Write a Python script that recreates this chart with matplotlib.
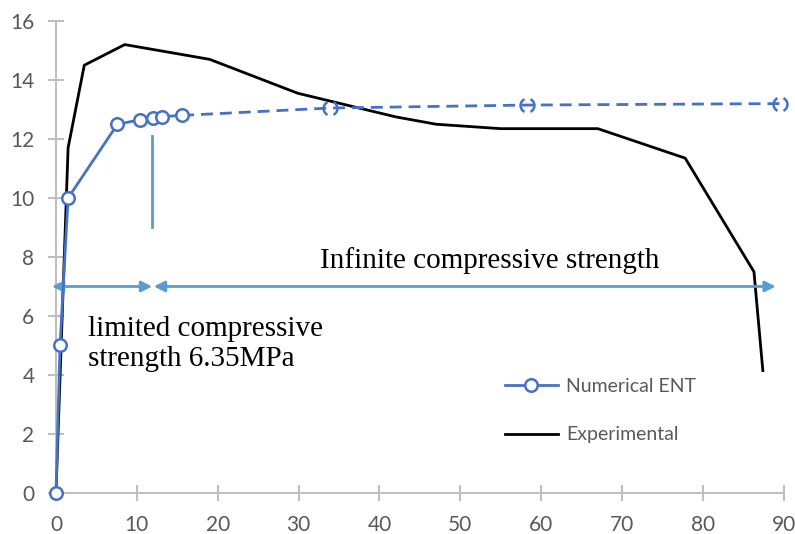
import matplotlib
matplotlib.use('Agg')
import matplotlib.pyplot as plt
from matplotlib.lines import Line2D
from matplotlib.path import Path

# numerical ENT results, solid part with markers
num_x = [0, 0.5, 1.5, 7.6, 10.4, 12.0, 13.1, 15.6]
num_y = [0, 5.0, 10.0, 12.5, 12.65, 12.72, 12.76, 12.8]
# numerical ENT continuation (infinite compressive strength), dashed
ext_x = [15.6, 33.9, 58.3, 89.5]
ext_y = [12.8, 13.05, 13.15, 13.2]

# experimental curve
exp_x = [0, 1.5, 3.5, 8.5, 19, 29.9, 42, 47, 55, 67, 77.8, 86.3, 87.4]
exp_y = [0, 11.7, 14.5, 15.2, 14.7, 13.55, 12.75, 12.5, 12.35, 12.35, 11.35, 7.5, 4.15]

# limit marker and arrows
limit_x = 11.9
limit_y = [9.0, 12.1]
arrow_y = 7.0
arrow_left = [-0.5, 11.9]
arrow_right = [12.1, 89.0]

xticks = list(range(0, 91, 10))
yticks = list(range(0, 17, 2))

blue = '#4472C4'
light_blue = '#5B9BD5'
grey = '#BFBFBF'
label_grey = '#595959'

fig = plt.figure(figsize=(7.95, 5.34), dpi=100)
ax = fig.add_axes([0.0704, 0.0768, 0.9156, 0.8839])

ax.plot(exp_x, exp_y, color='black', lw=2, zorder=2)

# open circle broken into two arcs for the dashed markers
arc_marker = Path.make_compound_path(Path.arc(-65, 65), Path.arc(115, 245))
ax.plot(ext_x, ext_y, color=blue, lw=2, dashes=(4.3, 2.5), zorder=3)
ax.plot(ext_x[1:], ext_y[1:], ls='none', marker=arc_marker, ms=10,
        mew=1.8, mec=blue, mfc='none', zorder=4, clip_on=False)

ax.plot(num_x, num_y, color=blue, lw=2, marker='o', ms=9, mew=1.8,
        mfc='white', mec=blue, zorder=5, clip_on=False)

ax.plot([limit_x, limit_x], limit_y, color=light_blue, lw=2, zorder=3)

arrow_kw = dict(arrowstyle='<|-|>', color=light_blue, lw=2,
                mutation_scale=16, shrinkA=0, shrinkB=0)
ax.annotate('', xy=(arrow_left[0], arrow_y), xytext=(arrow_left[1], arrow_y),
            arrowprops=arrow_kw, annotation_clip=False)
ax.annotate('', xy=(arrow_right[0], arrow_y), xytext=(arrow_right[1], arrow_y),
            arrowprops=arrow_kw, annotation_clip=False)

ax.text(32.7, 7.63, 'Infinite compressive strength', family='Liberation Serif',
        fontsize=21, va='baseline', ha='left')
ax.text(4.0, 5.32, 'limited compressive', family='Liberation Serif',
        fontsize=21, va='baseline', ha='left')
ax.text(4.0, 4.3, 'strength 6.35MPa', family='Liberation Serif',
        fontsize=21, va='baseline', ha='left')

ax.set_xlim(0, 90)
ax.set_ylim(0, 16)
ax.set_xticks(xticks)
ax.set_yticks(yticks)
for side in ['top', 'right']:
    ax.spines[side].set_visible(False)
for side in ['left', 'bottom']:
    ax.spines[side].set_color(grey)
    ax.spines[side].set_linewidth(1.5)
ax.tick_params(direction='inout', length=11, width=1.5, color=grey,
               labelcolor=label_grey, labelsize=15)
ax.tick_params(axis='x', pad=10)
ax.tick_params(axis='y', pad=10)
for lab in ax.get_xticklabels() + ax.get_yticklabels():
    lab.set_family('Lato')

handles = [Line2D([], [], color=blue, lw=2, marker='o', ms=9, mew=1.8,
                  mfc='white', mec=blue),
           Line2D([], [], color='black', lw=2)]
leg = ax.legend(handles, ['Numerical ENT', 'Experimental'], loc='upper left',
                bbox_to_anchor=(0.617, 0.244), frameon=False, borderpad=0,
                borderaxespad=0, handlelength=2.7, handletextpad=0.45,
                labelspacing=1.62, prop={'family': 'Lato', 'size': 14})
for t in leg.get_texts():
    t.set_color(label_grey)

fig.savefig('out.png', dpi=100)
